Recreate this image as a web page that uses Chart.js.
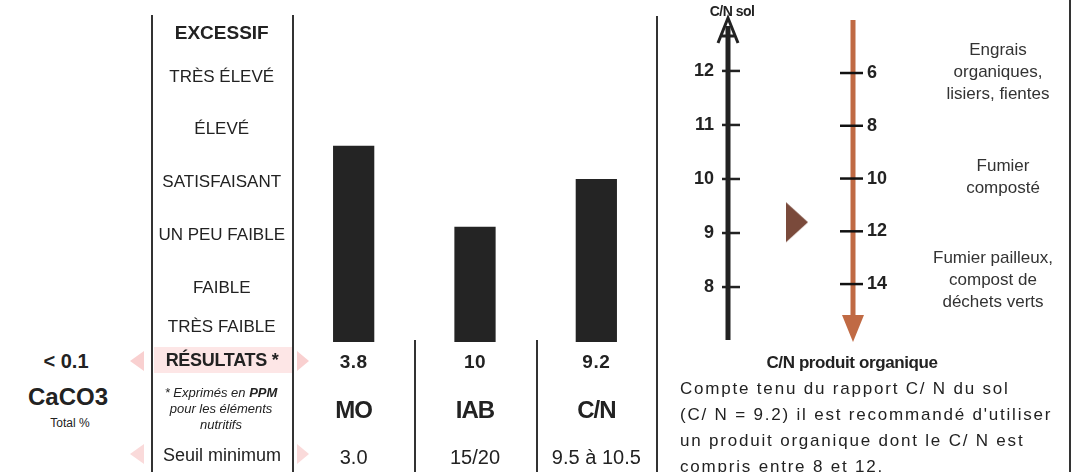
<!DOCTYPE html>
<html>
<head>
<meta charset="utf-8">
<script src="https://cdn.jsdelivr.net/npm/chart.js@4.4.0/dist/chart.umd.min.js"></script>
<style>
  body { margin: 0; background: #fff; font-family: "Liberation Sans", Arial, sans-serif; color: #222; }
  #page { position: relative; width: 1080px; height: 472px; overflow: hidden; background: #fff; }
  .t { position: absolute; white-space: nowrap; transform: translate(-50%, -50%); text-align: center; }
  .l { position: absolute; white-space: nowrap; }
  .vl { position: absolute; width: 2px; background: #333; }
  canvas { position: absolute; }
  .pk { position: absolute; width: 0; height: 0; border-top: 10px solid transparent; border-bottom: 10px solid transparent; }
</style>
</head>
<body>
<div id="page">
  <div style="position:absolute;left:154px;top:347px;width:138px;height:26px;background:#fde6e6"></div>
  <div class="pk" style="left:130px;top:351px;border-right:14px solid #f9d0d0"></div>
  <div class="pk" style="left:297px;top:351px;border-left:12px solid #f9d0d0"></div>
  <div class="pk" style="left:130px;top:444px;border-right:14px solid #fadada"></div>
  <div class="pk" style="left:297px;top:444px;border-left:12px solid #fadada"></div>

  <canvas id="barres" width="505" height="374" style="left:152px;top:-8px"></canvas>
  <canvas id="echelle" width="400" height="365" style="left:660px;top:0"></canvas>

  <div class="vl" style="left:151px;top:15px;height:457px"></div>
  <div class="vl" style="left:292px;top:15px;height:457px"></div>
  <div class="vl" style="left:414px;top:340px;height:132px"></div>
  <div class="vl" style="left:536px;top:340px;height:132px"></div>
  <div class="vl" style="left:656px;top:16px;height:456px"></div>
  <div class="vl" style="left:1069px;top:0;height:472px"></div>

  <div class="t" style="left:66px;top:361px;font-size:20px;font-weight:bold">&lt; 0.1</div>
  <div class="t" style="left:68px;top:397px;font-size:24px;font-weight:bold">CaCO3</div>
  <div class="t" style="left:70px;top:423px;font-size:12px">Total %</div>

  <div class="t" style="left:222px;top:360px;font-size:18px;font-weight:bold;letter-spacing:-0.3px">RÉSULTATS *</div>
  <div class="t" style="left:221px;top:409px;font-size:13px;font-style:italic;line-height:16px">* Exprimés en <b>PPM</b><br>pour les éléments<br>nutritifs</div>
  <div class="t" style="left:222px;top:455px;font-size:18px">Seuil minimum</div>

  <div id="colonnes"></div>

  <div class="t" style="left:732px;top:11px;font-size:14px;font-weight:bold;letter-spacing:-0.5px">C/N sol</div>
  <div id="groupes"></div>

  <div class="t" style="left:852px;top:363px;font-size:17px;font-weight:bold;letter-spacing:-0.4px">C/N produit organique</div>
  <div id="texte" class="l" style="left:680px;top:376px;font-size:17px;letter-spacing:1.8px;line-height:26px"></div>
</div>

<script>
// niveaux d'interprétation (du bas vers le haut)
const levelLabels = ['TRÈS FAIBLE', 'FAIBLE', 'UN PEU FAIBLE', 'SATISFAISANT', 'ÉLEVÉ', 'TRÈS ÉLEVÉ', 'EXCESSIF'];
const levelTicks = [0.27, 1.03, 2.02, 3.03, 4.04, 5.03, 5.87];

// analyses
const categories = ['MO', 'IAB', 'C/N'];
const results = ['3.8', '10', '9.2'];
const thresholds = ['3.0', '15/20', '9.5 à 10.5'];
const barLevels = [3.73, 2.19, 3.1];

// échelles C/N
const solTicks = [8, 9, 10, 11, 12];
const produitTicks = [6, 8, 10, 12, 14];
const cnSol = 9.2;
const produitGroups = [
    ['Engrais', 'organiques,', 'lisiers, fientes'],
    ['Fumier', 'composté'],
    ['Fumier pailleux,', 'compost de', 'déchets verts']
];

Chart.defaults.font.family = '"Liberation Sans", Arial, sans-serif';
Chart.defaults.color = '#222';

// graphique des résultats
const barChart = new Chart(document.getElementById('barres'), {
    type: 'bar',
    data: {
        labels: categories,
        datasets: [{
            data: barLevels,
            backgroundColor: '#242424',
            barPercentage: 0.34,
            categoryPercentage: 1
        }]
    },
    options: {
        responsive: false,
        animation: false,
        devicePixelRatio: 1,
        layout: { padding: { top: 24, bottom: 24, left: 0, right: 0 } },
        plugins: { legend: { display: false }, tooltip: { enabled: false } },
        scales: {
            x: { display: false },
            y: {
                min: 0,
                max: 6.2,
                afterBuildTicks: s => { s.ticks = levelTicks.map(v => ({ value: v })); },
                afterFit: s => { s.width = 141; },
                grid: { display: false, drawTicks: false },
                border: { display: false },
                ticks: {
                    autoSkip: false,
                    crossAlign: 'center',
                    padding: 8,
                    color: '#222',
                    callback: (v, i) => levelLabels[i],
                    font: c => c.index === levelLabels.length - 1
                        ? { size: 19, weight: 'bold' }
                        : { size: 17 }
                }
            }
        }
    }
});

// textes sous les barres, placés avec l'échelle x
const col = document.getElementById('colonnes');
categories.forEach((c, i) => {
    const x = 152 + barChart.scales.x.getPixelForValue(i);
    col.innerHTML += `<div class="t" style="left:${x}px;top:362px;font-size:19px;font-weight:bold;letter-spacing:0.5px">${results[i]}</div>`;
    col.innerHTML += `<div class="t" style="left:${x}px;top:410px;font-size:24px;font-weight:bold;letter-spacing:-1px">${c}</div>`;
    col.innerHTML += `<div class="t" style="left:${x}px;top:457px;font-size:20px">${thresholds[i]}</div>`;
});

// flèche pointant la valeur du sol
const tri = document.createElement('canvas');
tri.width = 24; tri.height = 42;
const tc = tri.getContext('2d');
tc.fillStyle = '#7a4a3b';
tc.beginPath(); tc.moveTo(1, 1); tc.lineTo(23, 21); tc.lineTo(1, 41); tc.closePath(); tc.fill();

const axesCN = {
    id: 'axesCN',
    afterDraw(chart) {
        const { ctx, chartArea: a, scales } = chart;
        const xl = a.left, xr = a.right;
        const seg = (x1, y1, x2, y2) => { ctx.beginPath(); ctx.moveTo(x1, y1); ctx.lineTo(x2, y2); ctx.stroke(); };
        ctx.save();
        // axe C/N sol
        ctx.strokeStyle = '#222';
        ctx.lineWidth = 5;
        seg(xl, a.bottom, xl, 26);
        ctx.lineWidth = 3;
        ctx.beginPath(); ctx.moveTo(xl - 10, 43); ctx.lineTo(xl, 18); ctx.lineTo(xl + 10, 43); ctx.stroke();
        seg(xl - 6, 36, xl + 6, 36);
        ctx.lineWidth = 2.5;
        solTicks.forEach(v => { const y = scales.ysol.getPixelForValue(v); seg(xl - 6, y, xl + 12, y); });
        // axe C/N produit organique
        ctx.strokeStyle = '#c06a44';
        ctx.fillStyle = '#c06a44';
        ctx.lineWidth = 5;
        seg(xr, 20, xr, a.bottom - 22);
        ctx.beginPath(); ctx.moveTo(xr - 11, a.bottom - 25); ctx.lineTo(xr + 11, a.bottom - 25); ctx.lineTo(xr, a.bottom + 2); ctx.closePath(); ctx.fill();
        ctx.strokeStyle = '#111';
        ctx.lineWidth = 2.5;
        produitTicks.forEach(v => { const y = scales.yprod.getPixelForValue(v); seg(xr - 13, y, xr + 10, y); });
        ctx.restore();
    }
};

new Chart(document.getElementById('echelle'), {
    type: 'scatter',
    data: {
        datasets: [{
            data: [{ x: 0.552, y: cnSol }],
            yAxisID: 'ysol',
            pointStyle: tri,
            pointRadius: 12
        }]
    },
    options: {
        responsive: false,
        animation: false,
        devicePixelRatio: 1,
        layout: { padding: { top: 25, bottom: 25, left: 0, right: 0 } },
        plugins: { legend: { display: false }, tooltip: { enabled: false } },
        scales: {
            x: { type: 'linear', min: 0, max: 1, display: false },
            ysol: {
                position: 'left',
                min: 7.02,
                max: 12.85,
                afterBuildTicks: s => { s.ticks = solTicks.map(v => ({ value: v })); },
                afterFit: s => { s.width = 68; },
                grid: { display: false, drawTicks: false },
                border: { display: false },
                ticks: { padding: 14, font: { size: 18, weight: 'bold' }, color: '#222' }
            },
            yprod: {
                position: 'right',
                reverse: true,
                min: 4.18,
                max: 16.12,
                afterBuildTicks: s => { s.ticks = produitTicks.map(v => ({ value: v })); },
                afterFit: s => { s.width = 207; },
                grid: { display: false, drawTicks: false },
                border: { display: false },
                ticks: { padding: 14, font: { size: 18, weight: 'bold' }, color: '#222' }
            }
        }
    },
    plugins: [axesCN]
});

// catégories de produits organiques
const grp = document.getElementById('groupes');
const grpPos = [[998, 72], [1003, 177], [993, 280]];
produitGroups.forEach((lines, i) => {
    grp.innerHTML += `<div class="t" style="left:${grpPos[i][0]}px;top:${grpPos[i][1]}px;font-size:17px;line-height:22px;color:#333">${lines.join('<br>')}</div>`;
});

document.getElementById('texte').innerHTML =
    'Compte tenu du rapport C/ N du sol<br>' +
    `(C/ N = ${cnSol}) il est recommandé d'utiliser<br>` +
    'un produit organique dont le C/ N est<br>' +
    'compris entre 8 et 12.';
</script>
</body>
</html>
